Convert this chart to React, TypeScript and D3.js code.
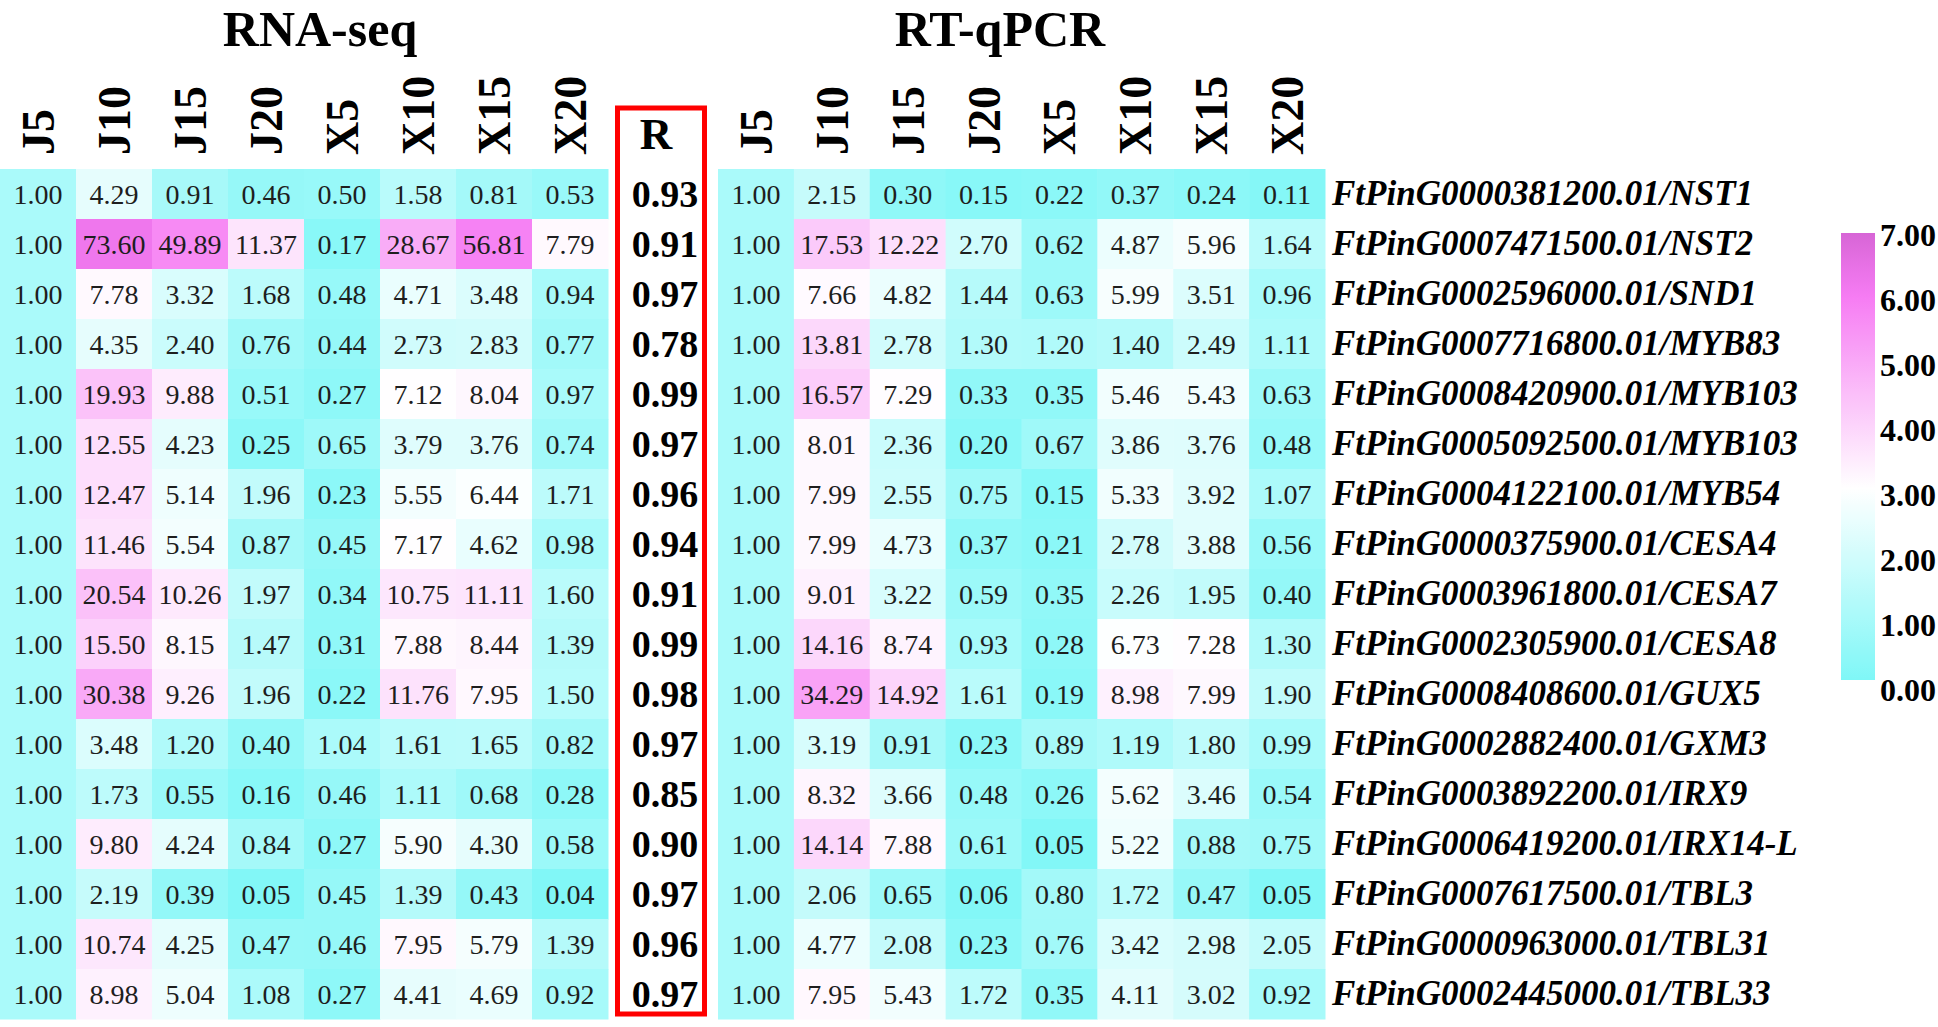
import React from 'react';
import * as d3 from 'd3';

const columns = ['J5', 'J10', 'J15', 'J20', 'X5', 'X10', 'X15', 'X20'];

const genes = [
  'FtPinG0000381200.01/NST1',
  'FtPinG0007471500.01/NST2',
  'FtPinG0002596000.01/SND1',
  'FtPinG0007716800.01/MYB83',
  'FtPinG0008420900.01/MYB103',
  'FtPinG0005092500.01/MYB103',
  'FtPinG0004122100.01/MYB54',
  'FtPinG0000375900.01/CESA4',
  'FtPinG0003961800.01/CESA7',
  'FtPinG0002305900.01/CESA8',
  'FtPinG0008408600.01/GUX5',
  'FtPinG0002882400.01/GXM3',
  'FtPinG0003892200.01/IRX9',
  'FtPinG0006419200.01/IRX14-L',
  'FtPinG0007617500.01/TBL3',
  'FtPinG0000963000.01/TBL31',
  'FtPinG0002445000.01/TBL33',
];

// relative expression, one row per gene
const rnaSeq = [
  [1.0, 4.29, 0.91, 0.46, 0.5, 1.58, 0.81, 0.53],
  [1.0, 73.6, 49.89, 11.37, 0.17, 28.67, 56.81, 7.79],
  [1.0, 7.78, 3.32, 1.68, 0.48, 4.71, 3.48, 0.94],
  [1.0, 4.35, 2.4, 0.76, 0.44, 2.73, 2.83, 0.77],
  [1.0, 19.93, 9.88, 0.51, 0.27, 7.12, 8.04, 0.97],
  [1.0, 12.55, 4.23, 0.25, 0.65, 3.79, 3.76, 0.74],
  [1.0, 12.47, 5.14, 1.96, 0.23, 5.55, 6.44, 1.71],
  [1.0, 11.46, 5.54, 0.87, 0.45, 7.17, 4.62, 0.98],
  [1.0, 20.54, 10.26, 1.97, 0.34, 10.75, 11.11, 1.6],
  [1.0, 15.5, 8.15, 1.47, 0.31, 7.88, 8.44, 1.39],
  [1.0, 30.38, 9.26, 1.96, 0.22, 11.76, 7.95, 1.5],
  [1.0, 3.48, 1.2, 0.4, 1.04, 1.61, 1.65, 0.82],
  [1.0, 1.73, 0.55, 0.16, 0.46, 1.11, 0.68, 0.28],
  [1.0, 9.8, 4.24, 0.84, 0.27, 5.9, 4.3, 0.58],
  [1.0, 2.19, 0.39, 0.05, 0.45, 1.39, 0.43, 0.04],
  [1.0, 10.74, 4.25, 0.47, 0.46, 7.95, 5.79, 1.39],
  [1.0, 8.98, 5.04, 1.08, 0.27, 4.41, 4.69, 0.92],
];

const rtqPcr = [
  [1.0, 2.15, 0.3, 0.15, 0.22, 0.37, 0.24, 0.11],
  [1.0, 17.53, 12.22, 2.7, 0.62, 4.87, 5.96, 1.64],
  [1.0, 7.66, 4.82, 1.44, 0.63, 5.99, 3.51, 0.96],
  [1.0, 13.81, 2.78, 1.3, 1.2, 1.4, 2.49, 1.11],
  [1.0, 16.57, 7.29, 0.33, 0.35, 5.46, 5.43, 0.63],
  [1.0, 8.01, 2.36, 0.2, 0.67, 3.86, 3.76, 0.48],
  [1.0, 7.99, 2.55, 0.75, 0.15, 5.33, 3.92, 1.07],
  [1.0, 7.99, 4.73, 0.37, 0.21, 2.78, 3.88, 0.56],
  [1.0, 9.01, 3.22, 0.59, 0.35, 2.26, 1.95, 0.4],
  [1.0, 14.16, 8.74, 0.93, 0.28, 6.73, 7.28, 1.3],
  [1.0, 34.29, 14.92, 1.61, 0.19, 8.98, 7.99, 1.9],
  [1.0, 3.19, 0.91, 0.23, 0.89, 1.19, 1.8, 0.99],
  [1.0, 8.32, 3.66, 0.48, 0.26, 5.62, 3.46, 0.54],
  [1.0, 14.14, 7.88, 0.61, 0.05, 5.22, 0.88, 0.75],
  [1.0, 2.06, 0.65, 0.06, 0.8, 1.72, 0.47, 0.05],
  [1.0, 4.77, 2.08, 0.23, 0.76, 3.42, 2.98, 2.05],
  [1.0, 7.95, 5.43, 1.72, 0.35, 4.11, 3.02, 0.92],
];

// correlation between the two methods
const rValues = [0.93, 0.91, 0.97, 0.78, 0.99, 0.97, 0.96, 0.94, 0.91, 0.99, 0.98, 0.97, 0.85, 0.9, 0.97, 0.96, 0.97];

const legendTicks = [0, 1, 2, 3, 4, 5, 6, 7];

const W = 1938;
const H = 1027;
const font = '"Liberation Serif", "Times New Roman", serif';

// color on log2(value + 1), cyan -> white -> magenta
const color = d3.scaleLinear<string>()
  .domain([0, 3, 6, 7])
  .range(['#7ff7f7', '#ffffff', '#f67cf3', '#d765d6'])
  .clamp(true);
const level = (v: number) => Math.log2(v + 1);

const xLeft = d3.scaleBand().domain(columns).range([0, 608]);
const xRight = d3.scaleBand().domain(columns).range([718, 1325]);
const y = d3.scaleBand<number>().domain(genes.map((_, i) => i)).range([169, 1019]);

const legendY = d3.scaleLinear().domain([0, 7]).range([690, 235]); // label positions
const barY = d3.scaleLinear().domain([0, 7]).range([680, 233]);

function Heatmap({ x, data, title, titleX }: { x: d3.ScaleBand<string>; data: number[][]; title: string; titleX: number }) {
  return (
    <g>
      <text x={titleX} y={46} textAnchor="middle" fontSize={50} fontWeight="bold" fontFamily={font}>{title}</text>
      {columns.map(c => (
        <text key={c} transform={`translate(${x(c)! + x.bandwidth() / 2 + 16},155) rotate(-90)`}
          fontSize={46} fontWeight="bold" fontFamily={font}>{c}</text>
      ))}
      {data.map((row, i) => row.map((v, j) => (
        <rect key={`${i}-${j}`} x={x(columns[j])} y={y(i)} width={x.bandwidth() + 0.5} height={y.bandwidth() + 0.5}
          fill={color(level(v))} />
      )))}
      {data.map((row, i) => row.map((v, j) => (
        <text key={`t${i}-${j}`} x={x(columns[j])! + x.bandwidth() / 2} y={y(i)! + y.bandwidth() / 2} dy="0.34em"
          textAnchor="middle" fontSize={28} fill="#1e1e1e" fontFamily={font}>{v.toFixed(2)}</text>
      )))}
    </g>
  );
}

export default function App() {
  const stops = d3.range(0, 7.01, 0.25);
  return (
    <svg width={W} height={H} style={{ position: 'absolute', left: 0, top: 0, background: '#fff' }}>
      <defs>
        <linearGradient id="lg" x1="0" y1="1" x2="0" y2="0">
          {stops.map(s => <stop key={s} offset={s / 7} stopColor={color(s)} />)}
        </linearGradient>
      </defs>

      <Heatmap x={xLeft} data={rnaSeq} title="RNA-seq" titleX={320} />
      <Heatmap x={xRight} data={rtqPcr} title="RT-qPCR" titleX={1000} />

      {/* R column */}
      <rect x={617.5} y={108} width={87} height={906} fill="none" stroke="#ff0000" strokeWidth={5} />
      <text x={656} y={149} textAnchor="middle" fontSize={45} fontWeight="bold" fontFamily={font}>R</text>
      {rValues.map((r, i) => (
        <text key={i} x={665} y={y(i)! + y.bandwidth() / 2} dy="0.35em" textAnchor="middle"
          fontSize={38} fontWeight="bold" fontFamily={font}>{r.toFixed(2)}</text>
      ))}

      {genes.map((g, i) => (
        <text key={g + i} x={1332} y={y(i)! + y.bandwidth() / 2} dy="0.3em" fontSize={35}
          fontWeight="bold" fontStyle="italic" fontFamily={font}>{g}</text>
      ))}

      {/* legend */}
      <rect x={1841} y={barY(7)} width={34} height={barY(0) - barY(7)} fill="url(#lg)" />
      {legendTicks.map(t => (
        <text key={t} x={1880} y={legendY(t)} dy="0.35em" fontSize={32} fontWeight="bold" fontFamily={font}>{t.toFixed(2)}</text>
      ))}
    </svg>
  );
}
